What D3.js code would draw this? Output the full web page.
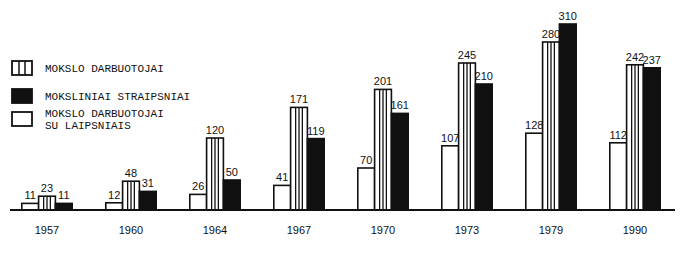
<!DOCTYPE html>
<html>
<head>
<meta charset="utf-8">
<script src="https://cdn.jsdelivr.net/npm/d3@7/dist/d3.min.js"></script>
<style>
  body { margin: 0; background: #fff; }
  svg { display: block; }
</style>
</head>
<body>
<svg id="chart"></svg>
<script>
// Duomenys
const years = ['1957', '1960', '1964', '1967', '1970', '1973', '1979', '1990'];
const suLaipsniais = [11, 12, 26, 41, 70, 107, 128, 112];
const darbuotojai = [23, 48, 120, 171, 201, 245, 280, 242];
const straipsniai = [11, 31, 50, 119, 161, 210, 310, 237];

const legendLabels = [
  ['MOKSLO DARBUOTOJAI'],
  ['MOKSLINIAI STRAIPSNIAI'],
  ['MOKSLO DARBUOTOJAI', 'SU LAIPSNIAIS']
];

const width = 690, height = 253;
const baseY = 210;

const svg = d3.select('#chart').attr('width', width).attr('height', height);

const x = d3.scaleBand().domain(years).range([5, 677]).paddingInner(0.4).paddingOuter(0.2);
const sub = d3.scaleBand().domain(['w', 's', 'b']).range([0, x.bandwidth()]);
const y = d3.scaleLinear().domain([0, 310]).range([baseY, 24]);

const rows = years.map((yr, i) => ({
  year: yr,
  vals: [
    { key: 'w', v: suLaipsniais[i] },
    { key: 's', v: darbuotojai[i] },
    { key: 'b', v: straipsniai[i] }
  ]
}));

const groups = svg.selectAll('.grp')
  .data(rows)
  .enter()
  .append('g')
  .attr('class', 'grp')
  .attr('transform', d => `translate(${x(d.year)},0)`);

const bars = groups.selectAll('.bar')
  .data(d => d.vals)
  .enter()
  .append('g')
  .attr('class', 'bar');

bars.append('rect')
  .attr('x', d => sub(d.key))
  .attr('y', d => y(d.v))
  .attr('width', sub.bandwidth())
  .attr('height', d => baseY - y(d.v))
  .style('fill', d => d.key === 'b' ? '#111' : '#fff')
  .style('stroke', '#111')
  .style('stroke-width', 1.6);

// vertikalios juostelės
bars.filter(d => d.key === 's')
  .selectAll('line')
  .data(d => [0.3, 0.5, 0.7].map(f => ({ f, d })))
  .enter()
  .append('line')
  .attr('x1', o => sub('s') + sub.bandwidth() * o.f)
  .attr('x2', o => sub('s') + sub.bandwidth() * o.f)
  .attr('y1', o => y(o.d.v))
  .attr('y2', baseY)
  .style('stroke', '#111')
  .style('stroke-width', 1.3);

bars.append('text')
  .attr('x', d => sub(d.key) + sub.bandwidth() / 2)
  .attr('y', d => y(d.v) - 4)
  .attr('text-anchor', 'middle')
  .style('font-family', '"Liberation Sans", Arial, sans-serif')
  .style('font-size', '11px')
  .style('fill', '#111')
  .text(d => d.v);

// ašis
svg.append('line')
  .attr('x1', 10).attr('x2', 675)
  .attr('y1', baseY).attr('y2', baseY)
  .style('stroke', '#111')
  .style('stroke-width', 2);

svg.selectAll('.year')
  .data(years)
  .enter()
  .append('text')
  .attr('class', 'year')
  .attr('x', d => x(d) + x.bandwidth() / 2)
  .attr('y', 234)
  .attr('text-anchor', 'middle')
  .style('font-family', '"Liberation Sans", Arial, sans-serif')
  .style('font-size', '11px')
  .style('fill', '#111')
  .text(d => d);

// legenda
const legendY = [61, 89, 112];
const legendKeys = ['s', 'b', 'w'];
legendKeys.forEach((k, i) => {
  const g = svg.append('g').attr('transform', `translate(12,${legendY[i]})`);
  g.append('rect')
    .attr('width', 20).attr('height', 14)
    .style('fill', k === 'b' ? '#111' : '#fff')
    .style('stroke', '#111')
    .style('stroke-width', 1.8);
  if (k === 's') {
    [7, 13].forEach(px => {
      g.append('line').attr('x1', px).attr('x2', px).attr('y1', 0).attr('y2', 14)
        .style('stroke', '#111').style('stroke-width', 1.5);
    });
  }
  legendLabels[i].forEach((t, j) => {
    g.append('text')
      .attr('x', 33)
      .attr('y', (i === 2 ? 5 : 11) + j * 12)
      .style('font-family', '"Liberation Mono", "DejaVu Sans Mono", monospace')
      .style('font-size', '11px')
      .style('fill', '#111')
      .text(t);
  });
});
</script>
</body>
</html>
